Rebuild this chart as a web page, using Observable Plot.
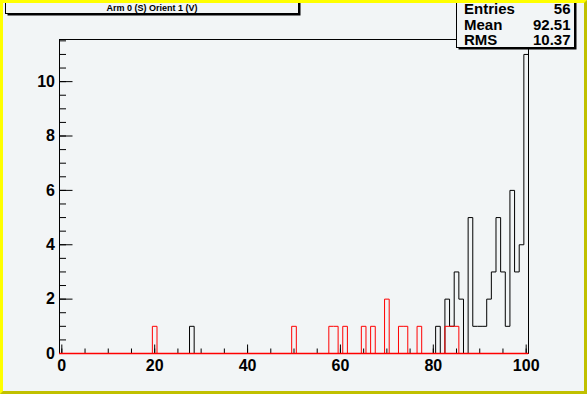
<!DOCTYPE html>
<html>
<head>
<meta charset="utf-8">
<script src="https://cdn.jsdelivr.net/npm/d3@7"></script>
<script src="https://cdn.jsdelivr.net/npm/@observablehq/plot@0.6"></script>
<style>
  html, body { margin: 0; padding: 0; background: #f2f5f6; }
  #wrap { position: relative; width: 587px; height: 394px; background: #f2f5f6; overflow: hidden; }
  #wrap > svg { position: absolute; left: 0; top: 0; }
  #border { position: absolute; left: 0; top: 0; width: 587px; height: 394px; box-sizing: border-box;
            border-top: 3px solid #ffff00; border-left: 3px solid #ffff00;
            border-right: 3px solid #c0c000; border-bottom: 3px solid #c0c000; pointer-events: none; }
</style>
</head>
<body>
<div id="wrap"></div>
<script>
// ---- data ----
const title = "Arm 0 (S) Orient 1 (V)";
const blackBins   = [28, 81, 83, 84, 85, 86, 88, 89, 90, 91, 92, 93, 94, 95, 96, 97, 98, 99, 100];
const blackCounts = [ 1,  1,  2,  1,  3,  2,  5,  1,  1,  1,  2,  3,  5,  3,  1,  6,  3,  4,  11];
const redBins     = [20, 50, 58, 59, 61, 65, 67, 70, 73, 74, 77, 83, 84, 85];
const redCounts   = [ 1,  1,  1,  1,  1,  1,  1,  2,  1,  1,  1,  1,  1,  1];
const statLabels  = ["Entries", "Mean", "RMS"];
const statValues  = ["56", "92.51", "10.37"];
const xTickLabels = [0, 20, 40, 60, 80, 100];
const xMinorTicks = d3.range(0, 101, 5);
const yTickLabels = [0, 2, 4, 6, 8, 10];
const yMinorTicks = d3.range(0, 11.51, 0.5);
const nBins = 101, xLo = -0.5, xHi = 100.5, yMax = 11.55;

// ---- layout ----
const W = 587, H = 394, mL = 59, mR = 59, mT = 39, mB = 41;
const frameW = W - mL - mR, frameH = H - mT - mB;
const font = "'Liberation Sans Narrow', 'Liberation Sans', Arial, sans-serif";

function outline(bins, counts) {
  const dense = new Array(nBins).fill(0);
  bins.forEach((b, i) => dense[b] = counts[i]);
  const pts = [{x: xLo, y: 0}];
  dense.forEach((v, b) => { pts.push({x: b - 0.5, y: v}); pts.push({x: b + 0.5, y: v}); });
  pts.push({x: xHi, y: 0});
  return pts;
}

const lineOpts = {x: "x", y: "y", strokeWidth: 1, strokeLinejoin: "miter", strokeLinecap: "butt"};

const chart = Plot.plot({
  width: W, height: H,
  marginLeft: mL, marginRight: mR, marginTop: mT, marginBottom: mB,
  style: {background: "transparent", fontFamily: font, overflow: "visible"},
  x: {domain: [xLo, xHi], axis: null},
  y: {domain: [0, yMax], axis: null},
  marks: [
    Plot.frame({stroke: "black"}),
    Plot.tickX(xMinorTicks, {x: d => d, stroke: "black", insetTop: frameH - 4.5}),
    Plot.tickX(xTickLabels, {x: d => d, stroke: "black", insetTop: frameH - 8.5}),
    Plot.tickY(yMinorTicks, {y: d => d, stroke: "black", insetRight: frameW - 7}),
    Plot.tickY(yTickLabels, {y: d => d, stroke: "black", insetRight: frameW - 13.5}),
    Plot.line(outline(blackBins, blackCounts), {...lineOpts, stroke: "black"}),
    Plot.line(outline(redBins, redCounts), {...lineOpts, stroke: "#ff0000"}),
    Plot.ruleY([0], {stroke: "#ff0000", strokeWidth: 1.6}),
    Plot.text(xTickLabels, {x: d => d, y: 0, text: d => String(d), lineAnchor: "top", dy: 6,
      fontSize: 16, fontWeight: "bold", fill: "black"}),
    Plot.text(yTickLabels, {x: xLo, y: d => d, text: d => String(d), textAnchor: "end", dx: -4.5,
      fontSize: 16, fontWeight: "bold", fill: "black"})
  ]
});
document.getElementById("wrap").appendChild(chart);

// ---- title box and stats box (overlay) ----
const ov = d3.select("#wrap").append("svg").attr("width", W).attr("height", H)
  .style("font-family", font);
function box(x, y, w, h) {
  ov.append("rect").attr("x", x + 2).attr("y", y + 2).attr("width", w).attr("height", h).attr("fill", "black");
  ov.append("rect").attr("x", x).attr("y", y).attr("width", w).attr("height", h)
    .attr("fill", "#f2f5f6").attr("stroke", "black").attr("stroke-width", 1);
}
box(5.5, -10.5, 293, 24);
ov.append("text").attr("x", 152).attr("y", 10.5).attr("text-anchor", "middle")
  .attr("font-size", 9).attr("font-weight", "bold").text(title);

box(456.5, -10.5, 118, 58);
const rowY = [13.5, 29.5, 45];
statLabels.forEach((s, i) => {
  ov.append("text").attr("x", 464).attr("y", rowY[i]).attr("font-size", 15).attr("font-weight", "bold").text(s);
  ov.append("text").attr("x", 570.5).attr("y", rowY[i]).attr("text-anchor", "end")
    .attr("font-size", 15).attr("font-weight", "bold").text(statValues[i]);
});

d3.select("#wrap").append("div").attr("id", "border");
</script>
</body>
</html>
